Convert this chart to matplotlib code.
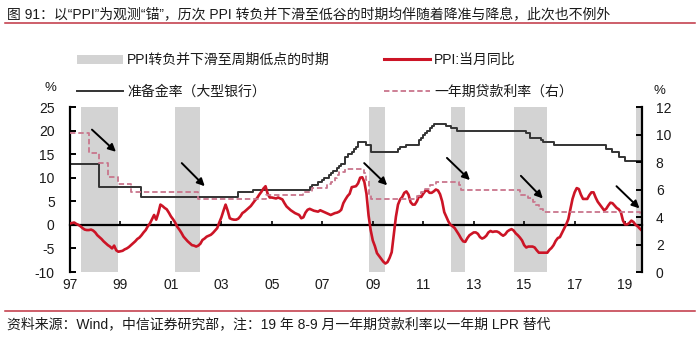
import matplotlib

matplotlib.use("Agg")
import matplotlib.pyplot as plt
import numpy as np
from matplotlib.lines import Line2D
from matplotlib.patches import Patch

plt.rcParams["font.family"] = ["Liberation Sans", "Noto Sans CJK SC"]
plt.rcParams["axes.unicode_minus"] = False

TITLE = "图 91：以“PPI”为观测“锚”，历次 PPI 转负并下滑至低谷的时期均伴随着降准与降息，此次也不例外"
SOURCE = "资料来源：Wind，中信证券研究部，注：19 年 8-9 月一年期贷款利率以一年期 LPR 替代"

START = "1997-01"
END = "2019-09"

# PPI 当月同比 (%), monthly from 1997-01, one row per year
ppi = [
    0.3, 0.4, 0.5, 0.2, 0.0, -0.3, -0.7, -1.0, -1.1, -1.1, -1.0, -1.2,
    -1.6, -2.2, -2.6, -3.0, -3.5, -3.9, -4.3, -4.6, -5.0, -4.4, -5.4, -5.7,
    -5.6, -5.5, -5.2, -5.0, -4.7, -4.3, -3.9, -3.5, -3.0, -2.7, -2.2, -1.6,
    -1.1, -0.3, 0.3, 1.2, 2.1, 1.1, 2.5, 4.3, 4.0, 3.6, 3.3, 2.6,
    1.8, 1.2, 0.5, -0.4, -1.0, -1.7, -2.5, -3.0, -3.5, -3.9, -4.3, -4.4,
    -4.6, -4.4, -4.0, -3.2, -2.9, -2.5, -2.3, -2.1, -1.7, -1.2, -0.7, 0.5,
    1.6, 3.0, 4.3, 3.0, 1.4, 1.2, 1.1, 1.1, 1.3, 1.8, 2.5, 2.8,
    3.2, 3.6, 4.0, 4.6, 5.2, 5.7, 6.4, 7.0, 7.7, 8.2, 6.6, 5.8,
    5.8, 5.7, 5.6, 5.8, 5.6, 5.4, 4.6, 3.9, 3.5, 3.1, 2.8, 2.5,
    2.3, 2.1, 1.4, 1.6, 2.6, 3.2, 3.4, 3.2, 3.0, 2.9, 2.8, 3.1,
    2.9, 2.7, 2.5, 2.3, 2.1, 2.3, 2.5, 2.6, 2.8, 3.2, 4.6, 5.4,
    6.1, 6.6, 8.0, 8.1, 8.2, 8.8, 10.0, 10.1, 9.1, 6.6, 2.0, -1.1,
    -3.3, -4.5, -6.0, -6.6, -7.2, -7.8, -8.2, -7.9, -7.0, -5.8, -2.1, 1.7,
    4.3, 5.4, 5.9, 6.8, 7.1, 6.4, 4.8, 4.3, 4.3, 5.0, 6.1, 5.9,
    6.6, 7.2, 7.3, 6.8, 6.8, 7.1, 7.5, 7.3, 6.5, 5.0, 2.7, 1.7,
    0.7, 0.0, -0.3, -0.7, -1.4, -2.1, -2.9, -3.5, -3.6, -2.8, -2.2, -1.9,
    -1.6, -1.6, -1.9, -2.6, -2.9, -2.7, -2.3, -1.6, -1.3, -1.5, -1.4, -1.4,
    -1.6, -2.0, -2.3, -2.0, -1.4, -1.1, -0.9, -1.2, -1.8, -2.2, -2.7, -3.3,
    -4.3, -4.8, -4.6, -4.6, -4.6, -4.8, -5.4, -5.9, -5.9, -5.9, -5.9, -5.9,
    -5.3, -4.9, -4.3, -3.4, -2.8, -2.6, -1.7, -0.8, 0.1, 1.2, 3.3, 5.5,
    6.9, 7.8, 7.6, 6.4, 5.5, 5.5, 5.5, 6.3, 6.9, 6.9, 5.8, 4.9,
    4.3, 3.7, 3.1, 3.4, 4.1, 4.7, 4.6, 4.1, 3.6, 3.3, 2.7, 0.9,
    0.1, 0.1, 0.4, 0.9, 0.6, 0.0, -0.3, -0.8, -1.2,
]

# 准备金率（大型银行）: month of change -> new level (%)
rrr_dates = [
    "1997-01", "1998-03", "1999-11", "2003-09", "2004-04", "2006-07", "2006-08",
    "2006-11", "2007-01", "2007-02", "2007-04", "2007-05", "2007-06", "2007-08",
    "2007-09", "2007-10", "2007-12", "2008-01", "2008-03", "2008-04", "2008-05",
    "2008-06", "2008-10", "2008-12", "2010-01", "2010-02", "2010-05", "2010-11",
    "2010-12", "2011-01", "2011-02", "2011-03", "2011-04", "2011-05", "2011-06",
    "2011-12", "2012-02", "2012-05", "2015-02", "2015-04", "2015-09", "2015-10",
    "2016-03", "2018-04", "2018-07", "2018-10", "2019-01", "2019-09",
]
rrr_values = [
    13, 8, 6, 7, 7.5, 8, 8.5,
    9, 9.5, 10, 10.5, 11, 11.5, 12,
    12.5, 13, 14.5, 15, 15.5, 16, 16.5,
    17.5, 17, 15.5, 16, 16.5, 17, 18,
    18.5, 19, 19.5, 20, 20.5, 21, 21.5,
    21, 20.5, 20, 19.5, 18.5, 18, 17.5,
    17, 16, 15.5, 14.5, 13.5, 13,
]

# 一年期贷款利率 (%), right axis: month of change -> new level
loan_dates = [
    "1997-01", "1997-10", "1998-03", "1998-07", "1998-12", "1999-06", "2002-02",
    "2004-10", "2006-04", "2006-08", "2007-03", "2007-05", "2007-07", "2007-08",
    "2007-09", "2007-12", "2008-09", "2008-10", "2008-11", "2008-12", "2010-10",
    "2010-12", "2011-02", "2011-04", "2011-07", "2012-06", "2012-07", "2014-11",
    "2015-03", "2015-05", "2015-06", "2015-08", "2015-10", "2019-08", "2019-09",
]
loan_values = [
    10.08, 8.64, 7.92, 6.93, 6.39, 5.85, 5.31,
    5.58, 5.85, 6.12, 6.39, 6.57, 6.84, 7.02,
    7.29, 7.47, 7.20, 6.66, 5.58, 5.31, 5.56,
    5.81, 6.06, 6.31, 6.56, 6.31, 6.00, 5.60,
    5.35, 5.10, 4.85, 4.60, 4.35, 4.31, 4.20,
]

# PPI转负并下滑至周期低点的时期
trough_periods = [
    ("1997-06", "1998-12"),
    ("2001-03", "2002-03"),
    ("2008-11", "2009-07"),
    ("2012-02", "2012-09"),
    ("2014-08", "2015-12"),
    ("2019-06", "2019-09"),
]

# arrows (start, end) in (year, left-axis %) coordinates
arrows = [
    ((1997.87, 20.2), (1998.82, 15.5)),
    ((2001.43, 13.1), (2002.34, 8.2)),
    ((2008.66, 13.1), (2009.57, 8.4)),
    ((2011.94, 14.2), (2012.85, 9.5)),
    ((2014.87, 10.4), (2015.74, 5.6)),
    ((2018.66, 8.2), (2019.57, 3.5)),
]

year_ticks = list(range(1997, 2020, 2))
year_labels = [f"{y % 100:02d}" for y in year_ticks]

RED = "#cc1426"
DARK = "#333333"
PINK = "#c9758c"
GRAY = "#d3d3d3"
TEXT = "#1a1a1a"


def _year(month: str) -> float:
    y, m = month.split("-")
    return int(y) + (int(m) - 1) / 12


def _steps(dates: list[str], values: list[float]) -> tuple[list[float], list[float]]:
    """Change points plus the last level carried to the end of the sample."""
    xs = [_year(d) for d in dates] + [_year(END)]
    return xs, list(values) + [values[-1]]


def main() -> None:
    fig = plt.figure(figsize=(7.0, 3.41), dpi=100)
    ax = fig.add_axes([0.1, 0.2023, 0.817, 0.4839])
    ax2 = ax.twinx()

    x0, x1 = _year(START), _year(END)
    months = x0 + np.arange(len(ppi)) / 12

    for a, b in trough_periods:
        ax.axvspan(_year(a), _year(b), color=GRAY, lw=0, zorder=0)

    rx, ry = _steps(rrr_dates, rrr_values)
    ax.plot(rx, ry, drawstyle="steps-post", color=DARK, lw=1.4, zorder=2)
    ax.plot(months, ppi, color=RED, lw=1.9, zorder=4)

    lx, ly = _steps(loan_dates, loan_values)
    ax2.plot(lx, ly, drawstyle="steps-post", color=PINK, lw=1.3, dashes=(3, 1.6))

    ax.set_xlim(x0, x1)
    ax.set_ylim(-10, 25)
    ax2.set_ylim(0, 12)

    # x axis: spine on the zero line with small inward ticks, labels at the bottom
    for s in ("top", "right"):
        ax.spines[s].set_visible(False)
    ax.spines["bottom"].set_position(("data", 0))
    ax.spines["bottom"].set_linewidth(1.6)
    ax.spines["left"].set_linewidth(1.6)
    ax.set_xticks(year_ticks)
    ax.tick_params(axis="x", direction="in", length=3, width=1.2, labelbottom=False)
    sec = ax.secondary_xaxis("bottom")
    sec.set_xticks(year_ticks, labels=year_labels)
    sec.spines["bottom"].set_visible(False)
    sec.tick_params(length=0, pad=4, labelsize=10, labelcolor=TEXT)

    ax.set_yticks(range(-10, 26, 5))
    ax.tick_params(axis="y", direction="in", length=4, width=1.4, pad=11,
                   labelsize=10, labelcolor=TEXT)

    for s in ("top", "left", "bottom"):
        ax2.spines[s].set_visible(False)
    ax2.spines["right"].set_linewidth(1.6)
    ax2.set_yticks(range(0, 13, 2))
    ax2.tick_params(axis="y", direction="in", length=4, width=1.4, pad=10,
                    labelsize=10, labelcolor=TEXT)

    for start, end in arrows:
        ax2.annotate("", xy=end, xytext=start, xycoords=ax.transData,
                     textcoords=ax.transData,
                     arrowprops=dict(arrowstyle="-|>", color="black", lw=1.4,
                                     mutation_scale=11, shrinkA=0, shrinkB=0))

    fig.text(45 / 700, 1 - 88 / 341, "%", fontsize=9.5, color=TEXT, va="center")
    fig.text(653 / 700, 1 - 91 / 341, "%", fontsize=9.5, color=TEXT, va="center")

    handles = [
        Patch(facecolor=GRAY, edgecolor="none"),
        Line2D([], [], color=DARK, lw=1.4),
        Line2D([], [], color=RED, lw=2.2),
        Line2D([], [], color=PINK, lw=1.3, dashes=(3, 1.6)),
    ]
    labels = ["PPI转负并下滑至周期低点的时期", "准备金率（大型银行）",
              "PPI:当月同比", "一年期贷款利率（右）"]
    fig.legend(handles, labels, ncol=2, loc="upper left",
               bbox_to_anchor=(77 / 700, 1 - 53 / 341), frameon=False,
               fontsize=10, handlelength=3.3, handleheight=0.6, handletextpad=0.3,
               labelspacing=1.25, columnspacing=3.9, borderpad=0, borderaxespad=0,
               labelcolor=TEXT)

    fig.text(7 / 700, 1 - 14 / 341, TITLE, fontsize=10, color=TEXT, va="center")
    fig.add_artist(Line2D([5 / 700, 695 / 700], [1 - 23 / 341] * 2, color="#c03341",
                          lw=1.1, transform=fig.transFigure))
    fig.add_artist(Line2D([5 / 700, 695 / 700], [1 - 311 / 341] * 2, color="#c03341",
                          lw=1.1, transform=fig.transFigure))
    fig.text(7 / 700, 1 - 324 / 341, SOURCE, fontsize=10, color=TEXT, va="center")

    fig.savefig("out.png", dpi=100, facecolor="white")


if __name__ == "__main__":
    main()
